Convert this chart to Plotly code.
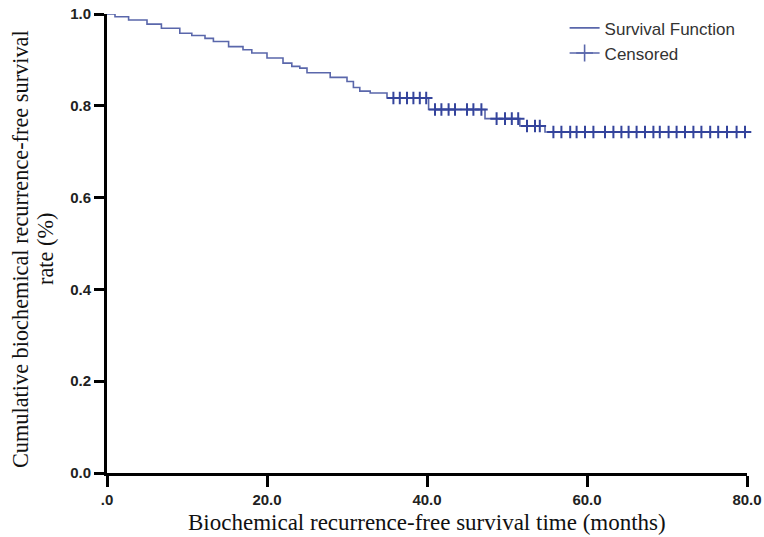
import numpy as np
import plotly.graph_objects as go

# Kaplan-Meier step data (months, cumulative survival)
step_times = [0, 1.0, 2.7, 5.0, 6.8, 9.1, 10.6, 12.25, 13.3, 15.2, 17.0, 18.1, 20.0, 22.0,
              23.1, 24.1, 25.0, 27.9, 30.0, 30.8, 31.6, 32.9, 35.0, 40.2, 47.25, 51.6,
              54.75, 80.0]
step_surv = [1.0, 0.994, 0.987, 0.978, 0.969, 0.958, 0.953, 0.947, 0.940, 0.929, 0.922,
             0.915, 0.904, 0.893, 0.886, 0.882, 0.872, 0.862, 0.853, 0.840, 0.832, 0.828,
             0.817, 0.792, 0.772, 0.756, 0.743, 0.743]

# Censored observation times (months)
censor_times = [35.8, 36.6, 37.5, 38.3, 39.1, 39.9, 41.0, 41.8, 42.7, 43.5, 45.0, 45.8,
                46.8, 48.7, 49.75, 50.6, 51.4, 52.5, 53.5, 54.1, 55.8, 56.8, 57.9, 58.7,
                59.75, 60.8, 62.25, 63.3, 64.3, 65.2, 66.2, 67.25, 68.3, 69.1, 70.2, 71.2,
                72.25, 73.3, 74.3, 75.4, 76.4, 77.5, 78.7, 79.75]

x_tickvals = [0, 20, 40, 60, 80]
x_ticktext = [".0", "20.0", "40.0", "60.0", "80.0"]
y_tickvals = [0.0, 0.2, 0.4, 0.6, 0.8, 1.0]
y_ticktext = ["0.0", "0.2", "0.4", "0.6", "0.8", "1.0"]

x_title = "Biochemical recurrence-free survival time (months)"
y_title_line1 = "Cumulative biochemical recurrence-free survival"
y_title_line2 = "rate (%)"

idx = np.searchsorted(np.array(step_times), np.array(censor_times), side="right") - 1
censor_surv = [step_surv[i] for i in idx]

line_color = "#5a67ab"
mark_color = "#34449c"

fig = go.Figure()
fig.add_trace(go.Scatter(
    x=step_times, y=step_surv, mode="lines", line=dict(shape="hv", color=line_color, width=1.6),
    name="Survival Function", showlegend=True, hoverinfo="skip", cliponaxis=False))
fig.add_trace(go.Scatter(
    x=censor_times, y=censor_surv, mode="markers",
    marker=dict(symbol="cross-thin", size=9, line=dict(color=mark_color, width=2)),
    name="Censored", showlegend=False, cliponaxis=False))
fig.add_trace(go.Scatter(
    x=[None], y=[None], mode="lines+markers", line=dict(color=line_color, width=1.6),
    marker=dict(symbol="cross-thin", size=12, line=dict(color=line_color, width=1.6)),
    name="Censored", showlegend=True))

tickfont = dict(family="Liberation Sans", size=15, color="#222", weight="bold")
xtitlefont = dict(family="Liberation Serif", size=23, color="#111")
ytitlefont = dict(family="Liberation Serif", size=22.3, color="#111")

PLOT_H = 459
PLOT_W = 640

fig.update_layout(
    width=764, height=537,
    margin=dict(l=107, r=17, t=14, b=64, autoexpand=False),
    paper_bgcolor="white", plot_bgcolor="white",
    legend=dict(x=0.715, y=1.008, xanchor="left", yanchor="top",
                font=dict(family="Liberation Sans", size=17, color="#333"),
                bgcolor="rgba(0,0,0,0)", tracegroupgap=0, itemwidth=30),
    xaxis=dict(range=[0, 80], tickvals=x_tickvals, ticktext=x_ticktext, automargin=False,
               showgrid=False, zeroline=False, showline=True, linecolor="black", linewidth=3,
               ticks="outside", ticklen=11, tickwidth=2.5, tickcolor="black",
               tickfont=tickfont, ticklabelstandoff=0, ticklabeloverflow="allow"),
    yaxis=dict(range=[0, 1], tickvals=y_tickvals, ticktext=y_ticktext, automargin=False,
               showgrid=False, zeroline=False, showline=True, linecolor="black", linewidth=3,
               ticks="outside", ticklen=10, tickwidth=2.5, tickcolor="black",
               tickfont=tickfont, ticklabeloverflow="allow"),
    annotations=[
        dict(text=x_title, xref="paper", yref="paper", x=0.5, y=-49 / PLOT_H,
             xanchor="center", yanchor="middle", showarrow=False, font=xtitlefont),
        dict(text=y_title_line1, xref="paper", yref="paper", x=-87 / PLOT_W, y=0.488,
             xanchor="center", yanchor="middle", textangle=-90, showarrow=False,
             font=ytitlefont),
        dict(text=y_title_line2, xref="paper", yref="paper", x=-62 / PLOT_W, y=0.488,
             xanchor="center", yanchor="middle", textangle=-90, showarrow=False,
             font=ytitlefont),
    ],
)

fig.write_html("out.html", config={"displayModeBar": False},
               post_script="document.body.style.margin='0';")
